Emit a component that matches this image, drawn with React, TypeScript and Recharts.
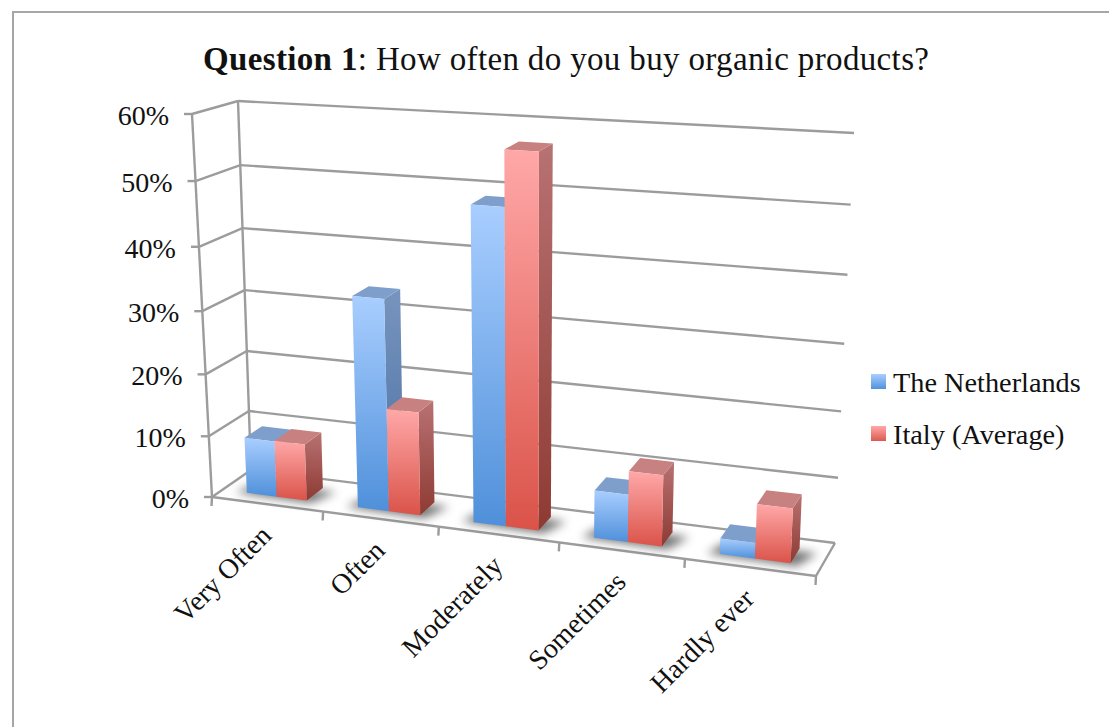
import React from "react";
import { BarChart, Bar, XAxis, YAxis, CartesianGrid, Legend } from "recharts";

// Survey answers, in percent
const categories = ["Very Often", "Often", "Moderately", "Sometimes", "Hardly ever"];
const netherlands = [9.1, 33.5, 48.7, 7.4, 2.4];
const italy = [9.2, 16.4, 57, 11, 8.3];
const yTicks = [0, 10, 20, 30, 40, 50, 60];
const seriesNames = ["The Netherlands", "Italy (Average)"];

const rows = categories.map((category, i) => ({
  category,
  netherlands: netherlands[i],
  italy: italy[i],
}));

const W = 1109;
const H = 727;
const PLOT = { left: 192, right: 835, top: 114, bottom: 497 };
const FONT = "'Liberation Serif', serif";
const LINE = "#9c9c9c";

type Pt = [number, number];

// Maps the unit square onto a quadrilateral: a perspective plane of the 3D box
function planeMap(p0: Pt, p1: Pt, p2: Pt, p3: Pt) {
  const dx1 = p1[0] - p2[0];
  const dx2 = p3[0] - p2[0];
  const sx = p0[0] - p1[0] + p2[0] - p3[0];
  const dy1 = p1[1] - p2[1];
  const dy2 = p3[1] - p2[1];
  const sy = p0[1] - p1[1] + p2[1] - p3[1];
  const den = dx1 * dy2 - dx2 * dy1;
  const g = (sx * dy2 - dx2 * sy) / den;
  const h = (dx1 * sy - sx * dy1) / den;
  const a = p1[0] - p0[0] + g * p1[0];
  const b = p3[0] - p0[0] + h * p3[0];
  const d = p1[1] - p0[1] + g * p1[1];
  const e = p3[1] - p0[1] + h * p3[1];
  return (u: number, v: number): Pt => {
    const w = g * u + h * v + 1;
    return [(a * u + b * v + p0[0]) / w, (d * u + e * v + p0[1]) / w];
  };
}

// Front and back planes of the box: u along the categories, v up the value axis
const frontPlane = planeMap([212, 497], [816, 576], [835, 154], [192, 114]);
const backPlane = planeMap([251, 470], [835, 543], [854, 133], [238, 101]);

// Projects plot coordinates plus a depth (0 front, 1 back) onto the page
function project(px: number, py: number, depth: number): Pt {
  const u = (px - PLOT.left) / (PLOT.right - PLOT.left);
  const v = (PLOT.bottom - py) / (PLOT.bottom - PLOT.top);
  const f = frontPlane(u, v);
  const b = backPlane(u, v);
  return [f[0] + (b[0] - f[0]) * depth, f[1] + (b[1] - f[1]) * depth];
}

const poly = (pts: Pt[]) => pts.map((p) => `${p[0].toFixed(2)},${p[1].toFixed(2)}`).join(" ");

const DEPTH_FRONT = 0.27;
const DEPTH_BACK = 0.72;

function box(x: number, y: number, width: number, height: number) {
  const x2 = x + width;
  const y2 = y + height;
  const z0 = DEPTH_FRONT;
  const z1 = DEPTH_BACK;
  return {
    front: [project(x, y2, z0), project(x2, y2, z0), project(x2, y, z0), project(x, y, z0)],
    side: [project(x2, y2, z0), project(x2, y2, z1), project(x2, y, z1), project(x2, y, z0)],
    top: [project(x, y, z0), project(x2, y, z0), project(x2, y, z1), project(x, y, z1)],
  };
}

function Column(props: any) {
  const { x, y, width, height, tone, castShadow } = props;
  const faces = box(x, y, width, height);
  const shadow: Pt[] = [
    project(x - width * 0.35, PLOT.bottom, DEPTH_FRONT - 0.03),
    project(x + width * 2.2, PLOT.bottom, DEPTH_FRONT - 0.07),
    project(x + width * 2.55, PLOT.bottom, DEPTH_BACK - 0.08),
    project(x - width * 0.05, PLOT.bottom, DEPTH_BACK - 0.08),
  ];
  return (
    <g>
      {castShadow && (
        <polygon points={poly(shadow)} fill="#000" fillOpacity={0.55} filter="url(#floorShadow)" />
      )}
      <polygon points={poly(faces.side)} fill={`url(#${tone}Side)`} />
      <polygon points={poly(faces.top)} fill={tone === "blue" ? "#7e9ecb" : "#c88181"} />
      <polygon points={poly(faces.front)} fill={`url(#${tone}Front)`} />
    </g>
  );
}

const seg = (a: Pt, b: Pt) => (
  <line x1={a[0]} y1={a[1]} x2={b[0]} y2={b[1]} stroke={LINE} strokeWidth={2.4} />
);

// One value level on the side and back walls, plus the box edges on the floor level
function WallLine(props: any) {
  const { y1: y, index } = props;
  const l = PLOT.left;
  const r = PLOT.right;
  const f = project(l, y, 0);
  const b = project(l, y, 1);
  const e = project(r, y, 1);
  const isFloor = Math.abs(y - PLOT.bottom) < 0.5;
  return (
    <g key={`wall-${index}`}>
      {seg([f[0] - 8, f[1]], f)}
      {seg(f, b)}
      {seg(b, e)}
      {isFloor && seg(project(l, PLOT.top, 0), f)}
      {isFloor && seg(project(l, PLOT.top, 1), b)}
      {isFloor && seg(f, project(r, y, 0))}
      {isFloor && seg(project(r, y, 0), e)}
    </g>
  );
}

function ValueTick(props: any) {
  const { y, payload } = props;
  const f = project(PLOT.left, y, 0);
  return (
    <text x={f[0] - 23} y={f[1] + 11} textAnchor="end" fontFamily={FONT} fontSize={28} fill="#111">
      {`${payload.value}%`}
    </text>
  );
}

function CategoryTick(props: any) {
  const { x, payload } = props;
  const band = (PLOT.right - PLOT.left) / categories.length;
  const p = project(x, PLOT.bottom, 0);
  const ax = p[0] + 6;
  const ay = p[1] + 33;
  const marks = [project(x - band / 2, PLOT.bottom, 0)];
  if (payload.index === categories.length - 1) marks.push(project(x + band / 2, PLOT.bottom, 0));
  return (
    <g>
      {marks.map((m, i) => (
        <line key={i} x1={m[0]} y1={m[1]} x2={m[0] - 0.5} y2={m[1] + 9} stroke={LINE} strokeWidth={2.4} />
      ))}
      <text
        x={ax}
        y={ay}
        textAnchor="end"
        fontFamily={FONT}
        fontSize={28}
        fill="#111"
        transform={`rotate(-45 ${ax} ${ay})`}
      >
        {payload.value}
      </text>
    </g>
  );
}

const swatches: Record<string, string> = {
  [seriesNames[0]]: "linear-gradient(#a9ceff, #5092db)",
  [seriesNames[1]]: "linear-gradient(#ffa8a8, #db5a50)",
};

function KeyPanel({ payload }: any) {
  return (
    <div style={{ position: "relative", width: 230, height: 90, fontFamily: FONT, fontSize: 28.3, color: "#111" }}>
      {(payload || []).map((item: any, i: number) => (
        <div key={item.value} style={{ position: "absolute", left: 0, top: i * 52 }}>
          <span
            style={{
              position: "absolute",
              left: 0,
              top: 9,
              width: 15,
              height: 15,
              background: swatches[item.value],
            }}
          />
          <span style={{ position: "absolute", left: 22, top: 2, whiteSpace: "nowrap", lineHeight: "32px" }}>
            {item.value}
          </span>
        </div>
      ))}
    </div>
  );
}

export default function App() {
  return (
    <div style={{ position: "absolute", left: 0, top: 0, width: W, height: H, overflow: "hidden", background: "#fff" }}>
      <BarChart
        width={W}
        height={H}
        data={rows}
        barCategoryGap="22.5%"
        barGap={0}
        margin={{ top: PLOT.top, right: W - PLOT.right, bottom: H - PLOT.bottom - 60, left: PLOT.left - 60 }}
      >
        <defs>
          <linearGradient id="blueFront" x1="0" y1="0" x2="0" y2="1">
            <stop offset="0" stopColor="#a9ceff" />
            <stop offset="1" stopColor="#4f90da" />
          </linearGradient>
          <linearGradient id="redFront" x1="0" y1="0" x2="0" y2="1">
            <stop offset="0" stopColor="#ffa8a8" />
            <stop offset="1" stopColor="#da5349" />
          </linearGradient>
          <linearGradient id="blueSide" x1="0" y1="0" x2="0" y2="1">
            <stop offset="0" stopColor="#7794bd" />
            <stop offset="1" stopColor="#4a70a4" />
          </linearGradient>
          <linearGradient id="redSide" x1="0" y1="0" x2="0" y2="1">
            <stop offset="0" stopColor="#b87272" />
            <stop offset="1" stopColor="#8e3a33" />
          </linearGradient>
          <filter id="floorShadow" x="-30%" y="-50%" width="160%" height="200%">
            <feGaussianBlur stdDeviation="5" />
          </filter>
        </defs>
        <rect x={13} y={12} width={W + 20} height={H + 20} fill="none" stroke="#a6a6a6" strokeWidth={2} />
        <text x={203} y={70} fontFamily={FONT} fontSize={33} letterSpacing={0.35} fill="#111">
          <tspan fontWeight="bold">Question 1</tspan>
          <tspan>: How often do you buy organic products?</tspan>
        </text>
        <CartesianGrid horizontal={WallLine} vertical={false} />
        <XAxis dataKey="category" height={60} axisLine={false} tickLine={false} interval={0} tick={CategoryTick} />
        <YAxis width={60} domain={[0, 60]} ticks={yTicks} axisLine={false} tickLine={false} tick={ValueTick} />
        <Legend
          layout="vertical"
          align="center"
          verticalAlign="middle"
          content={KeyPanel}
          itemSorter={(item: any) => seriesNames.indexOf(item.value)}
          wrapperStyle={{ left: 871, top: 365, width: 230, right: "auto", bottom: "auto" }}
        />
        <Bar
          dataKey="netherlands"
          name={seriesNames[0]}
          fill="#5092db"
          isAnimationActive={false}
          shape={(p: any) => <Column {...p} tone="blue" castShadow />}
        />
        <Bar
          dataKey="italy"
          name={seriesNames[1]}
          fill="#db5a50"
          isAnimationActive={false}
          shape={(p: any) => <Column {...p} tone="red" />}
        />
      </BarChart>
    </div>
  );
}
